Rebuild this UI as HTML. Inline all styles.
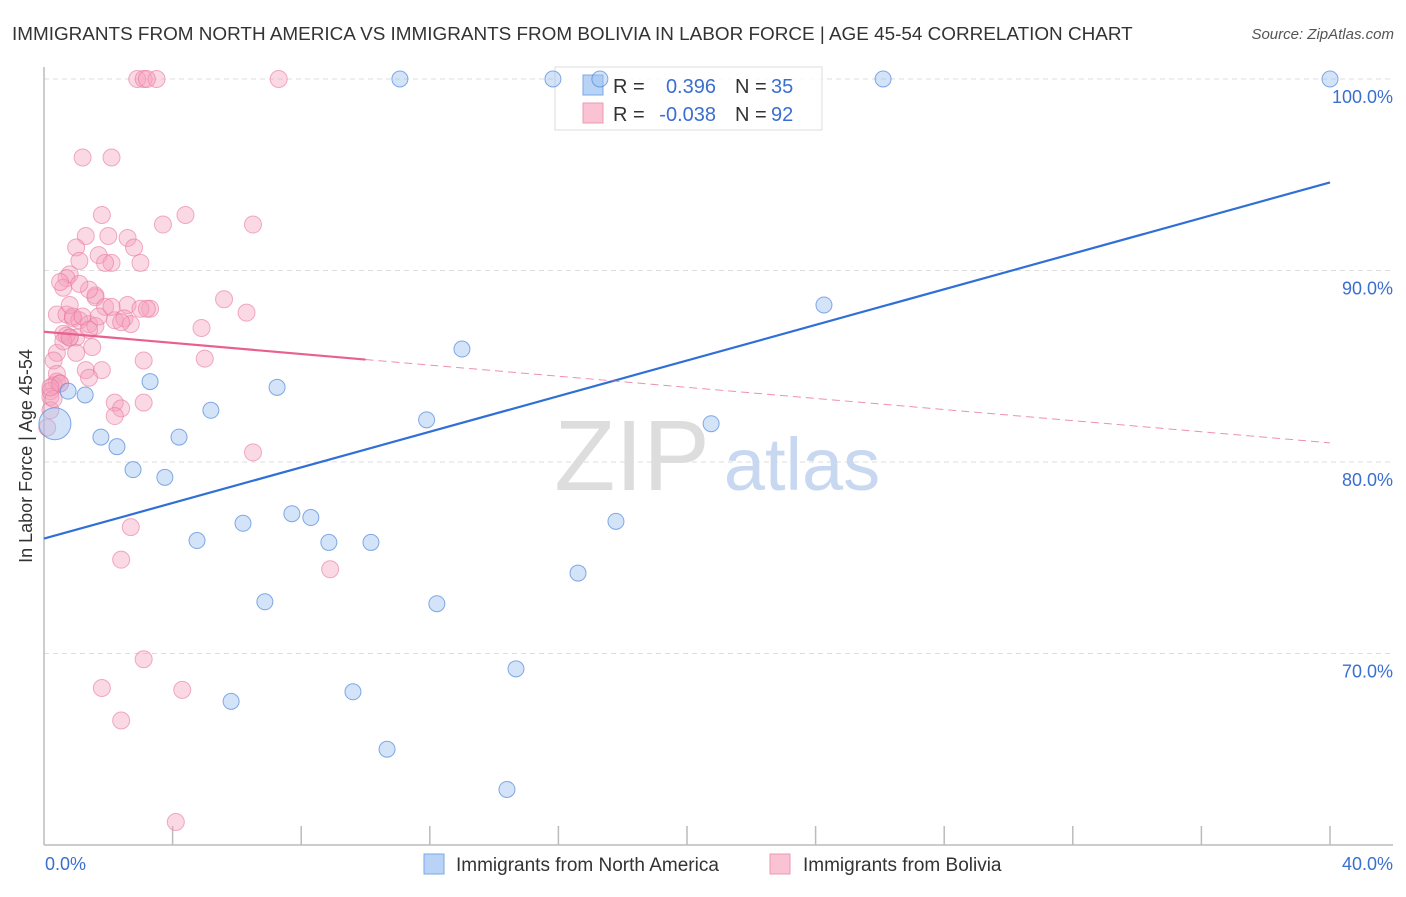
<!DOCTYPE html>
<html><head><meta charset="utf-8"><style>
body{margin:0;background:#fff;font-family:"Liberation Sans",sans-serif;}
svg text{font-family:"Liberation Sans",sans-serif;}
</style></head><body>
<svg id="chart" width="1406" height="892">
<text x="12" y="40" font-size="18.9" fill="#333">IMMIGRANTS FROM NORTH AMERICA VS IMMIGRANTS FROM BOLIVIA IN LABOR FORCE | AGE 45-54 CORRELATION CHART</text>
<text x="1394" y="39" font-size="15" fill="#555" font-style="italic" text-anchor="end">Source: ZipAtlas.com</text>
<g id="grid"></g>
<g>
<text x="632" y="490" font-size="100" font-family="Liberation Serif,serif" fill="#ddd" text-anchor="middle">ZIP</text>
<text x="802" y="490" font-size="74" fill="#c8d8f0" text-anchor="middle">atlas</text>
</g>
<line x1="44" y1="67" x2="44" y2="845" stroke="#bbb" stroke-width="1.5"/>
<line x1="44" y1="845" x2="1393" y2="845" stroke="#bbb" stroke-width="1.5"/>
<g id="ticks"></g>
<g>
<rect x="555" y="67" width="267" height="63" fill="#fff" fill-opacity="0.85" stroke="#ddd"/>
<rect x="583" y="75" width="20" height="20" fill="#b8d3f5" stroke="#7aa7e6"/>
<rect x="583" y="103" width="20" height="20" fill="#f9c3d3" stroke="#ee99b4"/>
<text x="613" y="93" font-size="20" fill="#333">R =</text><text x="716" y="93" font-size="20" fill="#3a6fd0" text-anchor="end">0.396</text>
<text x="735" y="93" font-size="20" fill="#333">N =</text><text x="771" y="93" font-size="20" fill="#3a6fd0">35</text>
<text x="613" y="121" font-size="20" fill="#333">R =</text><text x="716" y="121" font-size="20" fill="#3a6fd0" text-anchor="end">-0.038</text>
<text x="735" y="121" font-size="20" fill="#333">N =</text><text x="771" y="121" font-size="20" fill="#3a6fd0">92</text>
</g>
<g id="pink"></g>
<g id="blue"></g>
<g id="lines"></g>
<text x="32" y="456" font-size="18" fill="#333" text-anchor="middle" transform="rotate(-90 32 456)">In Labor Force | Age 45-54</text>
<text x="45" y="870" font-size="18" fill="#3a6fd0">0.0%</text>
<text x="1393" y="870" font-size="18" fill="#3a6fd0" text-anchor="end">40.0%</text>
<g>
<rect x="424" y="854" width="20" height="20" fill="#b8d3f5" stroke="#7aa7e6"/>
<text x="456" y="871" font-size="19" fill="#333">Immigrants from North America</text></g>
<g>
<rect x="770" y="854" width="20" height="20" fill="#f9c3d3" stroke="#ee99b4"/>
<text x="803" y="871" font-size="19" fill="#333">Immigrants from Bolivia</text></g>
</svg>
<script>
const yTicks=[100,90,80,70];
const xTickCount=10;
const blueX=[11.07,15.83,17.29,26.1,40,24.26,13,3.3,0.75,1.28,7.25,5.19,11.9,20.75,0.34,1.77,2.27,4.2,2.77,3.76,7.71,8.3,6.19,17.79,4.76,8.86,10.17,16.61,6.87,12.22,14.68,9.61,5.82,10.67,14.4];
const blueY=[100,100,100,100,100,88.2,85.9,84.2,83.7,83.5,83.9,82.7,82.2,82.0,82.0,81.3,80.8,81.3,79.6,79.2,77.3,77.1,76.8,76.9,75.9,75.8,75.8,74.2,72.7,72.6,69.2,68.0,67.5,65.0,62.9];
const blueR=[8,8,8,8,8,8,8,8,8,8,8,8,8,8,16,8,8,8,8,8,8,8,8,8,8,8,8,8,8,8,8,8,8,8,8];
const pinkX=[2.9,3.1,3.5,3.2,7.3,1.2,2.1,1.8,4.4,3.7,6.5,1.3,1,2.6,2,2.8,1.7,1.1,3,2.1,0.8,0.7,0.6,1.6,1.6,5.6,2.6,3.3,1.9,3,6.3,0.4,0.7,0.9,1.1,1.4,2.2,2.5,2.7,1.6,4.9,0.6,0.8,1,0.7,1.5,0.4,3.1,0.3,5,1.3,1.8,0.4,1.4,0.4,0.3,0.5,0.2,0.2,3.1,2.2,2.4,2.2,0.2,0.1,6.5,2.7,2.4,8.9,3.1,1.8,4.3,2.4,4.1,0.5,0.8,0.9,1.2,1.7,1.0,2.1,1.4,2.4,3.2,0.3,0.5,0.2,0.6,0.8,1.4,1.1,1.9];
const pinkY=[100,100,100,100,100,95.9,95.9,92.9,92.9,92.4,92.4,91.8,91.2,91.7,91.8,91.2,90.8,90.5,90.4,90.4,89.8,89.6,89.1,88.7,88.6,88.5,88.2,88.0,88.1,88.0,87.8,87.7,87.7,87.5,87.4,87.2,87.4,87.5,87.2,87.1,87.0,86.7,86.5,86.5,86.6,86.0,85.7,85.3,85.3,85.4,84.8,84.8,84.6,84.4,84.2,84.0,84.1,83.7,83.4,83.1,83.1,82.8,82.4,82.7,81.8,80.5,76.6,74.9,74.4,69.7,68.2,68.1,66.5,61.2,89.4,88.2,87.6,87.6,87.6,85.7,88.1,89.0,87.3,88.0,83.3,84.1,83.9,86.3,86.5,86.9,89.3,90.4];
const blueFitY=[76.0,94.6];
const pinkFitY=[86.8,81.0];
const pinkSolidEnd=10;
const X=v=>44+v/40*1286, Y=v=>79+(100-v)*19.15;
const NS='http://www.w3.org/2000/svg';
function mk(t,a,p){const e=document.createElementNS(NS,t);for(const k in a)e.setAttribute(k,a[k]);p.appendChild(e);return e;}
const grid=document.getElementById('grid');
yTicks.forEach(t=>{
 const l=mk('line',{x1:44,x2:1393,y1:Y(t),y2:Y(t),stroke:'#ddd','stroke-dasharray':'5,4'},grid);
 
 
 const tx=mk('text',{x:1393,y:Y(t)+24,'font-size':18,fill:'#3a6fd0','text-anchor':'end'},grid);
 tx.textContent=t.toFixed(1)+'%';
 
 
});
const tk=document.getElementById('ticks');
for(let i=1;i<=xTickCount;i++){const l=mk('line',{x1:X(i*4),x2:X(i*4),y1:826,y2:845,stroke:'#bbb','stroke-width':1.5},tk);
 
 }
const pg=document.getElementById('pink');
pinkX.forEach((x,i)=>{const c=mk('circle',{cx:X(x),cy:Y(pinkY[i]),r:8.5,fill:'rgba(246,160,188,0.4)',stroke:'rgba(232,120,160,0.6)','stroke-width':1},pg);
 
 });
const bg=document.getElementById('blue');
blueX.forEach((x,i)=>{const c=mk('circle',{cx:X(x),cy:Y(blueY[i]),r:blueR[i],fill:'rgba(160,195,240,0.45)',stroke:'rgba(80,135,220,0.7)','stroke-width':1},bg);
 
 });
const lg=document.getElementById('lines');
const bl=mk('line',{x1:X(0),y1:Y(blueFitY[0]),x2:X(40),y2:Y(blueFitY[1]),stroke:'#2f6fd6','stroke-width':2.2},lg);


const pAt=v=>pinkFitY[0]+(pinkFitY[1]-pinkFitY[0])*v/40;
const ps=mk('line',{x1:X(0),y1:Y(pAt(0)),x2:X(pinkSolidEnd),y2:Y(pAt(pinkSolidEnd)),stroke:'#e8608f','stroke-width':2.2},lg);


const pd=mk('line',{x1:X(pinkSolidEnd),y1:Y(pAt(pinkSolidEnd)),x2:X(40),y2:Y(pAt(40)),stroke:'#e8608f','stroke-width':1,'stroke-dasharray':'8,5',opacity:0.7},lg);


</script>
</body></html>
